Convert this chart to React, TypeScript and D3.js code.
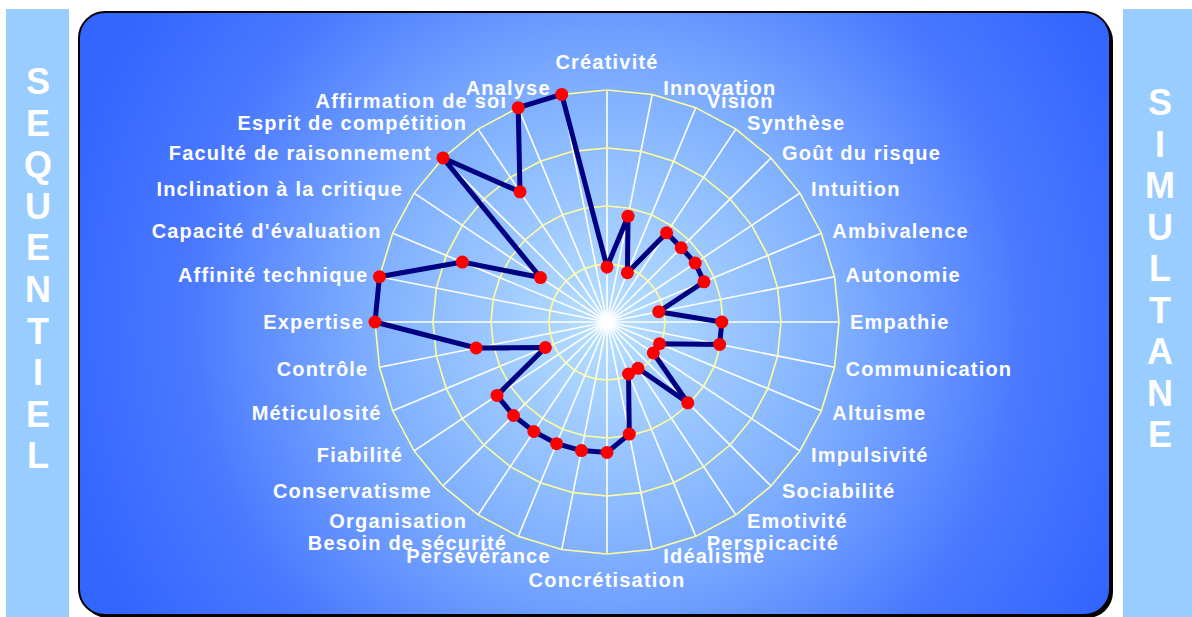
import React from 'react';
import * as d3 from 'd3';

// radar categories, clockwise from the top
const categories = [
  'Créativité', 'Innovation', 'Vision', 'Synthèse', 'Goût du risque', 'Intuition',
  'Ambivalence', 'Autonomie', 'Empathie', 'Communication', 'Altuisme', 'Impulsivité',
  'Sociabilité', 'Emotivité', 'Perspicacité', 'Idéalisme', 'Concrétisation', 'Persévérance',
  'Besoin de sécurité', 'Organisation', 'Conservatisme', 'Fiabilité', 'Méticulosité', 'Contrôle',
  'Expertise', 'Affinité technique', "Capacité d'évaluation", 'Inclination à la critique',
  'Faculté de raisonnement', 'Esprit de compétition', 'Affirmation de soi', 'Analyse',
];

const values = [
  0.95, 1.86, 0.92, 1.85, 1.81, 1.83, 1.81, 0.91, 1.98, 1.98, 0.98, 0.96,
  1.97, 0.96, 0.97, 1.97, 2.25, 2.26, 2.27, 2.27, 2.28, 2.28, 1.15, 2.3,
  4.0, 4.0, 2.7, 1.38, 4.0, 2.7, 4.0, 4.0,
];

const ringTicks = [1, 2, 3, 4];
const leftWord = 'SEQUENTIEL';
const rightWord = 'SIMULTANE';

const W = 1192;
const H = 617;
const cx = 607;
const cy = 322;
const R = 232;
const font = "'Liberation Sans', Arial, sans-serif";

export default function App() {
  const n = categories.length;
  const angle = d3.scaleLinear().domain([0, n]).range([0, 2 * Math.PI]);
  const r = d3.scaleLinear().domain([0, 4]).range([0, R]);

  const pt = (i: number, v: number) => {
    const a = angle(i);
    return [cx + r(v) * Math.sin(a), cy - r(v) * Math.cos(a)];
  };

  const radial = d3
    .lineRadial<number>()
    .angle((_, i) => angle(i))
    .curve(d3.curveLinearClosed);

  const dataPath = radial.radius((d) => r(d))(values) || '';

  return (
    <div style={{ position: 'fixed', left: 0, top: 0 }}>
      <svg width={W} height={H} style={{ display: 'block' }}>
        <defs>
          <radialGradient id="bg" gradientUnits="userSpaceOnUse" cx={cx} cy={cy} r={560}>
            <stop offset="0" stopColor="#b8e0ff" />
            <stop offset="0.4" stopColor="#82b2ff" />
            <stop offset="0.75" stopColor="#4a78ff" />
            <stop offset="1" stopColor="#3366ff" />
          </radialGradient>
        </defs>
        <rect x={0} y={0} width={W} height={H} fill="#ffffff" />

        {/* side panels */}
        <rect x={6} y={9} width={63} height={H - 9} fill="#99ccff" />
        <rect x={1123} y={9} width={W - 1123} height={H - 9} fill="#99ccff" />
        {leftWord.split('').map((ch, i) => (
          <text key={'l' + i} x={38} y={94 + i * 41.6} textAnchor="middle" fill="#fff"
            fontFamily={font} fontWeight="bold" fontSize={36}>{ch}</text>
        ))}
        {rightWord.split('').map((ch, i) => (
          <text key={'r' + i} x={1160} y={115 + i * 41.5} textAnchor="middle" fill="#fff"
            fontFamily={font} fontWeight="bold" fontSize={36}>{ch}</text>
        ))}

        {/* main plot area */}
        <rect x={82} y={15} width={1031} height={603} rx={26} fill="#000" />
        <rect x={79} y={12} width={1031} height={603} rx={26} fill="url(#bg)" stroke="#000" strokeWidth={2} />

        {/* spokes */}
        {categories.map((c, i) => {
          const [x, y] = pt(i, 4);
          return <line key={c} x1={cx} y1={cy} x2={x} y2={y} stroke="#fff" strokeWidth={1.6} />;
        })}
        {/* rings */}
        {ringTicks.map((t) => (
          <path key={t} d={radial.radius(() => r(t))(categories.map(() => t)) || ''}
            transform={`translate(${cx},${cy})`} fill="none" stroke="#ffff99" strokeWidth={1.6} />
        ))}

        {/* data */}
        <path d={dataPath} transform={`translate(${cx},${cy})`} fill="none" stroke="#000080"
          strokeWidth={5} strokeLinejoin="miter" />
        {values.map((v, i) => {
          const [x, y] = pt(i, v);
          return <circle key={i} cx={x} cy={y} r={6.5} fill="#ff0000" />;
        })}

        {/* category labels */}
        {categories.map((c, i) => {
          const a = angle(i);
          const [px, py] = pt(i, 4);
          const s = Math.sin(a);
          let x = px;
          let y = py - 7 * Math.cos(a);
          let anchor = 'middle';
          if (Math.abs(s) < 0.01) {
            y = Math.cos(a) > 0 ? py - 28 : py + 26;
          } else if (s > 0) {
            x = px + 11;
            anchor = 'start';
          } else {
            x = px - 11;
            anchor = 'end';
          }
          return (
            <text key={c} x={x} y={y + 7} textAnchor={anchor} fill="#fff" fontFamily={font}
              fontWeight="bold" fontSize={20} letterSpacing={1.2}>{c}</text>
          );
        })}
      </svg>
    </div>
  );
}
